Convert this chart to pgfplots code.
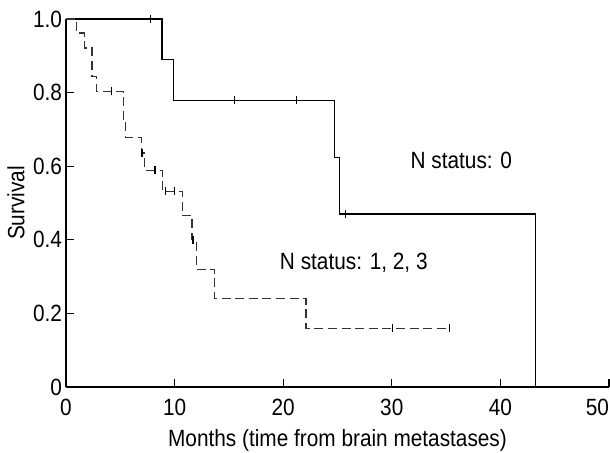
\documentclass[border=0pt]{standalone}
\usepackage{fontspec}
\setmainfont{Liberation Sans}
\usepackage{graphicx}
\usepackage{pgfplots}
\pgfplotsset{compat=1.18}
\usetikzlibrary{calc}
% the reference text is a little taller than plain Arial
\newcommand{\vs}[1]{\scalebox{1}[1.13]{#1}}

\begin{document}
\begin{tikzpicture}[font=\fontsize{10.4}{12}\selectfont]
\begin{axis}[
    name=ax,
    scale only axis,
    width=271.5pt, height=184pt,
    xmin=0, xmax=50, ymin=0, ymax=1,
    axis x line*=bottom, axis y line*=left,
    axis line style={line width=0.8pt},
    tick align=inside, major tick length=4pt,
    tick style={line width=0.6pt, black},
    xtick={0,10,20,30,40,50},
    xticklabels={\vs{0},\vs{10},\vs{20},\vs{30},\vs{40},\makebox[0pt][r]{\vs{50}}},
    ytick={0,0.2,0.4,0.6,0.8,1.0},
    yticklabels={\vs{0},\vs{0.2},\vs{0.4},\vs{0.6},\vs{0.8},\vs{1.0}},
    xticklabel style={yshift=-2.5pt},
    yticklabel style={xshift=1.5pt},
    /pgf/number format/assume math mode=true,
    xlabel={\vs{Months (time from brain metastases)}},
    ylabel={\vs{Survival}},
    xlabel style={at={(axis description cs:0.5,-0.144)}, anchor=center},
    ylabel style={at={(axis description cs:-0.092,0.5)}, anchor=center},
    clip=false,
]
% N status 0
\addplot[const plot, line width=0.6pt, black] coordinates {
    (0,1.0) (8.84,0.889) (9.88,0.779) (24.7,0.624) (25.2,0.47) (43.2,0)
};
\addplot[only marks, mark=|, mark size=2pt, mark options={line width=0.6pt, black}] coordinates {
    (7.8,1.0) (15.5,0.779) (21.2,0.779) (25.75,0.47)
};
% N status 1, 2, 3
\addplot[const plot, line width=0.6pt, black!80, dash pattern=on 4.5pt off 2.3pt] coordinates {
    (0,1.0) (1.0,0.962) (1.7,0.921) (2.4,0.843) (2.8,0.804) (5.3,0.723) (5.5,0.677)
    (6.95,0.636) (7.2,0.589) (8.85,0.532) (10.7,0.466) (11.6,0.400) (12.0,0.320)
    (13.7,0.240) (22.1,0.160) (35.3,0.160)
};
\addplot[only marks, mark=|, mark size=2pt, mark options={line width=0.6pt, black}] coordinates {
    (4.2,0.804) (7.0,0.636) (8.2,0.589) (9.15,0.532) (10.0,0.532)
    (11.7,0.400) (30.1,0.160) (35.3,0.160)
};
\node at (axis cs:36.4,0.617) {\vs{N status: 0}};
\node at (axis cs:26.5,0.337) {\vs{N status: 1, 2, 3}};
\end{axis}
\pgfresetboundingbox
\path ($(ax.south west)+(-33pt,-32.5pt)$) rectangle ($(ax.north east)+(0.5pt,9.5pt)$);
\end{tikzpicture}
\end{document}
